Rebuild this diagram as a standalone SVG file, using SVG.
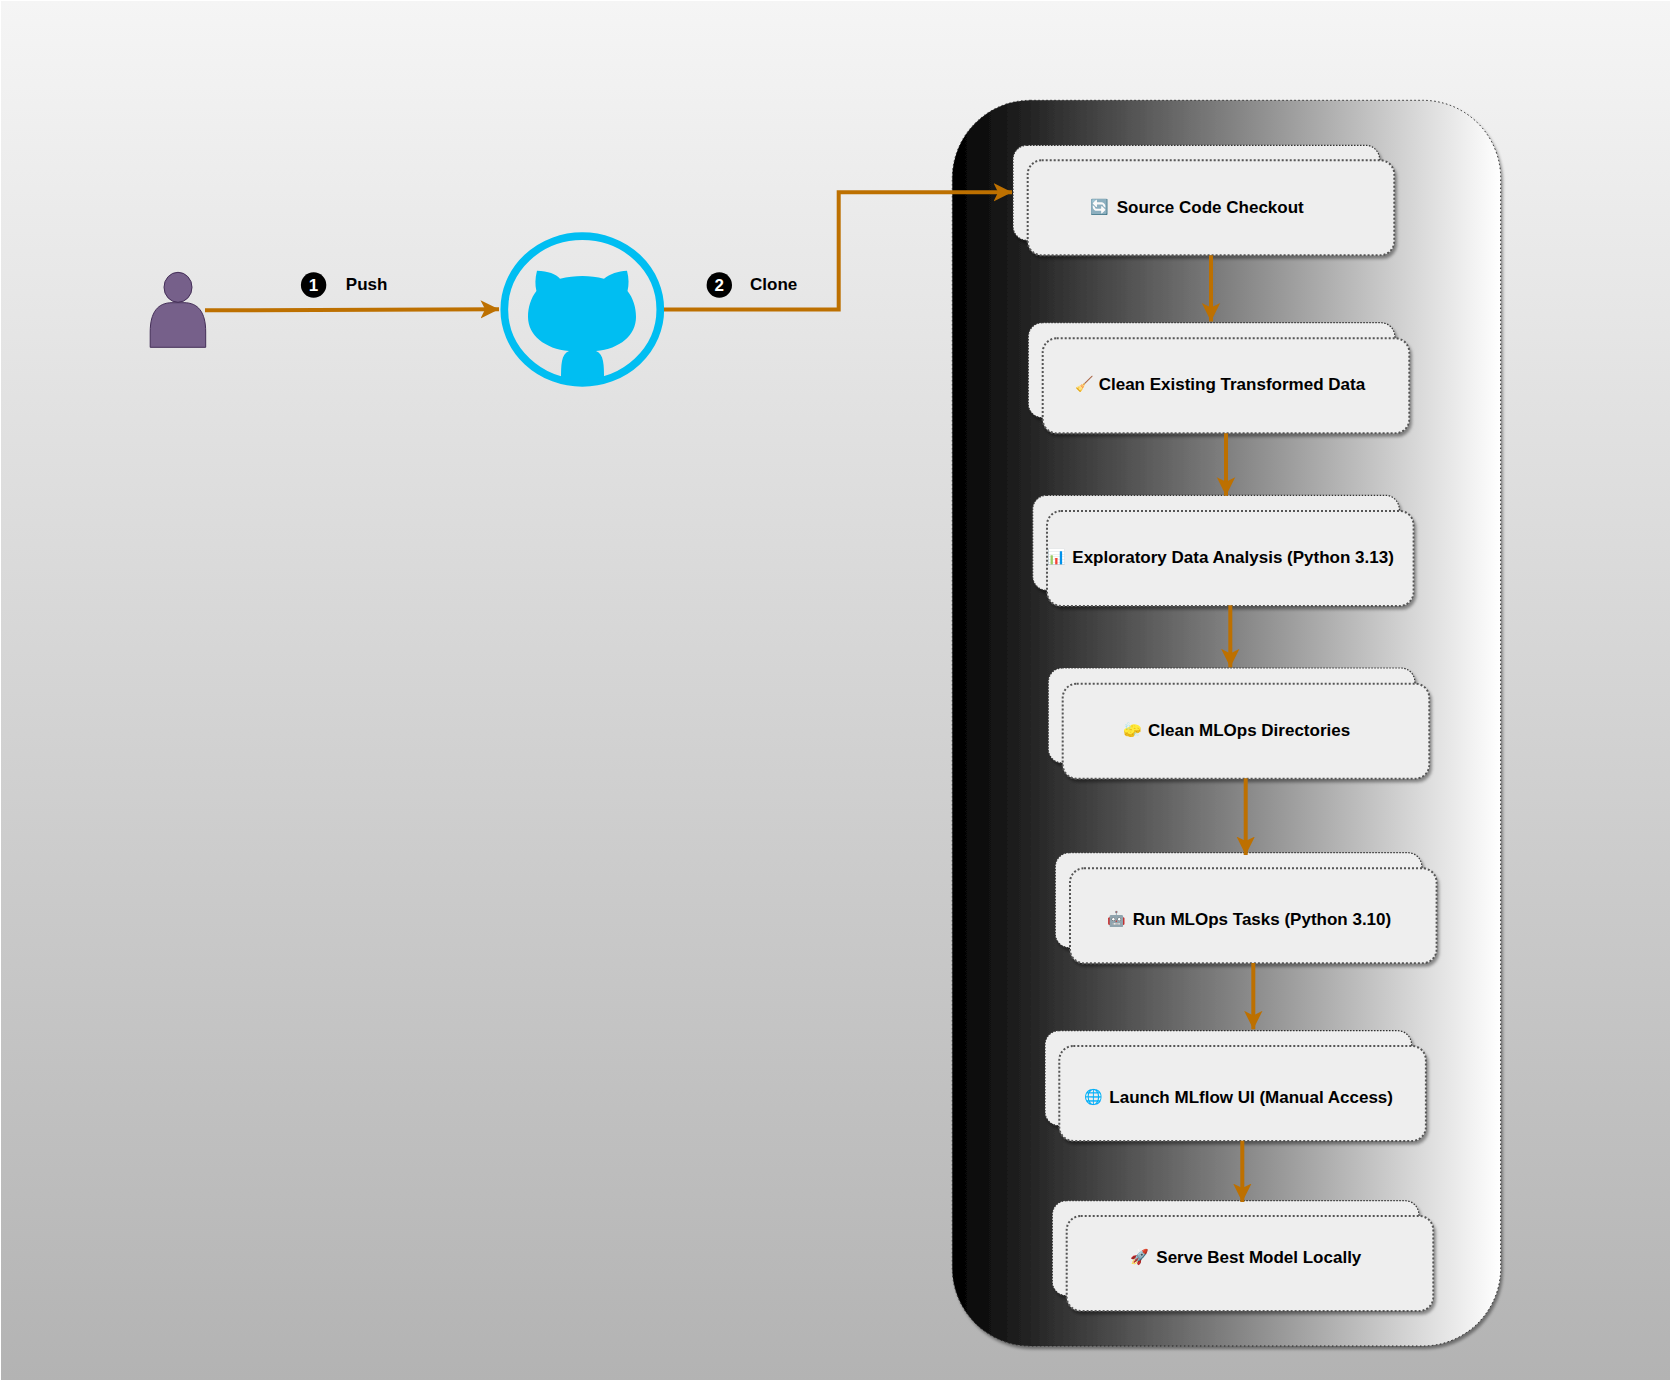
<svg xmlns="http://www.w3.org/2000/svg" width="1671" height="1381" viewBox="0 0 1671 1381">
<defs>
<linearGradient id="bg" x1="0" y1="0" x2="0" y2="1"><stop offset="0" stop-color="#f5f5f5"/><stop offset="1" stop-color="#b3b3b3"/></linearGradient>
<linearGradient id="cg" x1="0" y1="0" x2="1" y2="0"><stop offset="0" stop-color="#000"/><stop offset="1" stop-color="#fff"/></linearGradient>
<filter id="sh" x="-10%" y="-10%" width="120%" height="125%"><feDropShadow dx="2" dy="3" stdDeviation="1.8" flood-color="#000" flood-opacity="0.4"/></filter>
<marker id="ah" markerUnits="userSpaceOnUse" markerWidth="20" markerHeight="20" refX="18.5" refY="9.5" orient="auto"><path d="M0,0.3 L18.5,9.5 L0,18.7 L4.6,9.5 Z" fill="#BD7000"/></marker>
</defs>
<style>
.back{fill:#eeeeee;stroke:#333;stroke-width:1.2;stroke-dasharray:1.5 1.5;filter:url(#sh)}
.front{fill:#eeeeee;stroke:#555;stroke-width:2;stroke-dasharray:2 2;filter:url(#sh)}
.c{fill:none;stroke:#BD7000;stroke-width:4;marker-end:url(#ah)}
text{font-family:"Liberation Sans",Arial,sans-serif;font-weight:bold;font-size:17px;fill:#000;dominant-baseline:central}
.em{font-family:"Noto Color Emoji","Noto Sans",sans-serif;font-weight:normal;font-size:15px}
.num{fill:#fff;text-anchor:middle;font-size:17px}
</style>
<rect id="background" x="0.5" y="0.5" width="1670" height="1380" fill="url(#bg)" stroke="#fff" stroke-width="1"/>
<rect id="container" x="952.3" y="100.3" width="548.4" height="1245.7" rx="78" ry="78" fill="url(#cg)" stroke="#222" stroke-width="1" stroke-dasharray="1.5 2.5" filter="url(#sh)"/>
<g id="user"><ellipse cx="178" cy="287.3" rx="14" ry="15" fill="#76608a" stroke="#432d57"/><path d="M150.2,347.3 V332 C150.2,312 158,302.7 172,302.7 H184 C198,302.7 205.7,312 205.7,332 V347.3 Z" fill="#76608a" stroke="#432d57"/></g>
<g id="github"><path d="M537,270.7 C548,271 556,274 560,278.7 C575,275 590,275 604,278.7 C610,274 618,271 627,270.7 C629,278 629,285 627.5,291 C633,298 636,307 636,317 C636,335 620,349 596,351 C604,354 604,365 604,380 L561,380 C561,365 561,354 569,351 C545,349 528,335 528,317 C528,307 531,298 536.4,291 C535,285 535,278 537,270.7 Z" fill="#00BEF2"/><ellipse cx="582.3" cy="309.5" rx="78" ry="73.3" fill="none" stroke="#00BEF2" stroke-width="7.7"/></g>
<g id="node1"><rect class="back" x="1013" y="145.3" width="366.6" height="95" rx="14"/><rect class="front" x="1027.7" y="160.3" width="366.6" height="95" rx="14"/><text class="em" x="1090.7" y="207">🔄</text><text x="1116.7" y="207">Source Code Checkout</text></g>
<g id="node2"><rect class="back" x="1028.3" y="322.7" width="366.6" height="95" rx="14"/><rect class="front" x="1042.7" y="338.3" width="366.6" height="95" rx="14"/><text class="em" x="1075" y="384">🧹</text><text x="1098.7" y="384">Clean Existing Transformed Data</text></g>
<g id="node3"><rect class="back" x="1032.7" y="495.3" width="366.6" height="95" rx="14"/><rect class="front" x="1047" y="511" width="366.6" height="95" rx="14"/><text class="em" x="1047.5" y="557.3">📊</text><text x="1072.3" y="557.3">Exploratory Data Analysis (Python 3.13)</text></g>
<g id="node4"><rect class="back" x="1048.3" y="668" width="366.6" height="95" rx="14"/><rect class="front" x="1062.7" y="683.7" width="366.6" height="95" rx="14"/><text class="em" x="1123" y="730">🧽</text><text x="1148" y="730">Clean MLOps Directories</text></g>
<g id="node5"><rect class="back" x="1055.3" y="852.7" width="366.6" height="95" rx="14"/><rect class="front" x="1070" y="868.3" width="366.6" height="95" rx="14"/><text class="em" x="1107" y="919.3">🤖</text><text x="1132.7" y="919.3">Run MLOps Tasks (Python 3.10)</text></g>
<g id="node6"><rect class="back" x="1045" y="1030.7" width="366.6" height="95" rx="14"/><rect class="front" x="1059.3" y="1046" width="366.6" height="95" rx="14"/><text class="em" x="1084" y="1097.3">🌐</text><text x="1109.3" y="1097.3">Launch MLflow UI (Manual Access)</text></g>
<g id="node7"><rect class="back" x="1052.3" y="1200.7" width="366.6" height="95" rx="14"/><rect class="front" x="1066.7" y="1216" width="366.6" height="95" rx="14"/><text class="em" x="1130" y="1257.3">🚀</text><text x="1156.3" y="1257.3">Serve Best Model Locally</text></g>
<g id="connectors">
<path class="c" d="M205,310.3 L499,309.3"/>
<path class="c" d="M664,309.5 H838.7 V192.3 H1012"/>
<path class="c" d="M1211,255.3 V321.5"/>
<path class="c" d="M1226,433.3 V495.7"/>
<path class="c" d="M1230.3,605.3 V667.3"/>
<path class="c" d="M1245.7,778.3 V855"/>
<path class="c" d="M1253.3,963 V1029.3"/>
<path class="c" d="M1242.3,1140.7 V1202"/>
</g>
<g id="label-push"><circle cx="313.6" cy="285" r="12.7" fill="#000"/><text class="num" x="313.6" y="285">1</text><text x="345.8" y="284">Push</text></g>
<g id="label-clone"><circle cx="719.3" cy="285" r="12.7" fill="#000"/><text class="num" x="719.3" y="285">2</text><text x="750" y="284">Clone</text></g>
</svg>
